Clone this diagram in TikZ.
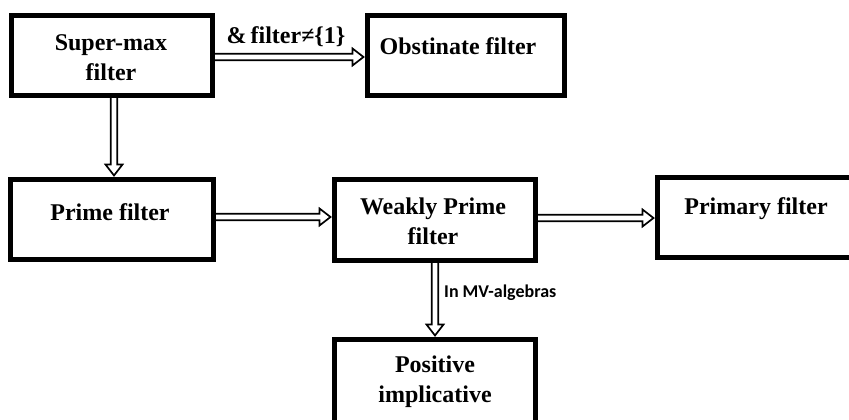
\documentclass[tikz,border=0pt]{standalone}
\usepackage{fontspec}
\setmainfont{Liberation Serif}
\newfontfamily\lblfont{Carlito}
\usetikzlibrary{calc}
\begin{document}
\begin{tikzpicture}[x=1pt,y=-1pt,
  box/.style={draw=black,line width=5pt,rectangle,inner sep=0pt},
  txt/.style={font=\fontsize{24}{30}\selectfont\bfseries,align=center,inner sep=0pt},
  imp/.style={draw=black,line width=1.7pt,line join=miter,
    to path={let \p1=($(\tikztostart)!-3pt!(\tikztotarget)$),
                 \p2=($(\tikztotarget)!1.5pt!(\tikztostart)$),
                 \p3=($(\p2)!11pt!(\p1)$) in
      ($(\p1)!3.2pt!90:(\p2)$) -- ($(\p3)!3.2pt!90:(\p2)$) -- ($(\p3)!8.5pt!90:(\p2)$)
      -- (\p2) -- ($(\p3)!8.5pt!-90:(\p2)$) -- ($(\p3)!3.2pt!-90:(\p2)$)
      -- ($(\p1)!3.2pt!-90:(\p2)$)}},
  lbl/.style={font=\fontsize{18}{22}\selectfont\lblfont\bfseries,inner sep=0pt}]
\useasboundingbox (0,0) rectangle (849,420);
\clip (0,0) rectangle (849,420);
% boxes
\node[box,minimum width=201pt,minimum height=80pt] (sm) at (112,55.5) {};
\node[box,minimum width=197pt,minimum height=80pt] (ob) at (466,55.5) {};
\node[box,minimum width=203pt,minimum height=80pt] (pf) at (112,219.5) {};
\node[box,minimum width=201pt,minimum height=81pt] (wp) at (435,220) {};
\node[box,minimum width=230pt,minimum height=80pt] (pr) at (772.5,217.5) {};
\node[box,minimum width=201pt,minimum height=100pt] (pi) at (435,389.5) {};
% texts
\node[txt] (tsm) at (111,58) {Super-max\\filter};
\node[txt] (tob) at (458,46) {Obstinate filter};
\node[txt] (tpf) at (110,212) {Prime filter};
\node[txt] (twp) at (433,221) {Weakly Prime\\filter};
\node[txt] (tpr) at (756,209) {Primary filter};
\node[txt] (tpi) at (435,382) {Positive\\implicative};
% arrows
\draw[imp] (sm.east |- 0,57) to (ob.west |- 0,57);
\node[font=\fontsize{24}{28}\selectfont\bfseries,inner sep=0pt] (l1) at (286,37) {\&\,filter≠\{1\}};
\draw[imp] (sm.south -| 114,0) to (pf.north -| 114,0);
\draw[imp] (pf.east |- 0,217) to (wp.west |- 0,217);
\draw[imp] (wp.east |- 0,218) to (pr.west |- 0,218);
\draw[imp] (wp.south) to (pi.north);
\node[lbl,anchor=west] (l2) at (444,293) {In MV-algebras};
\end{tikzpicture}
\end{document}
